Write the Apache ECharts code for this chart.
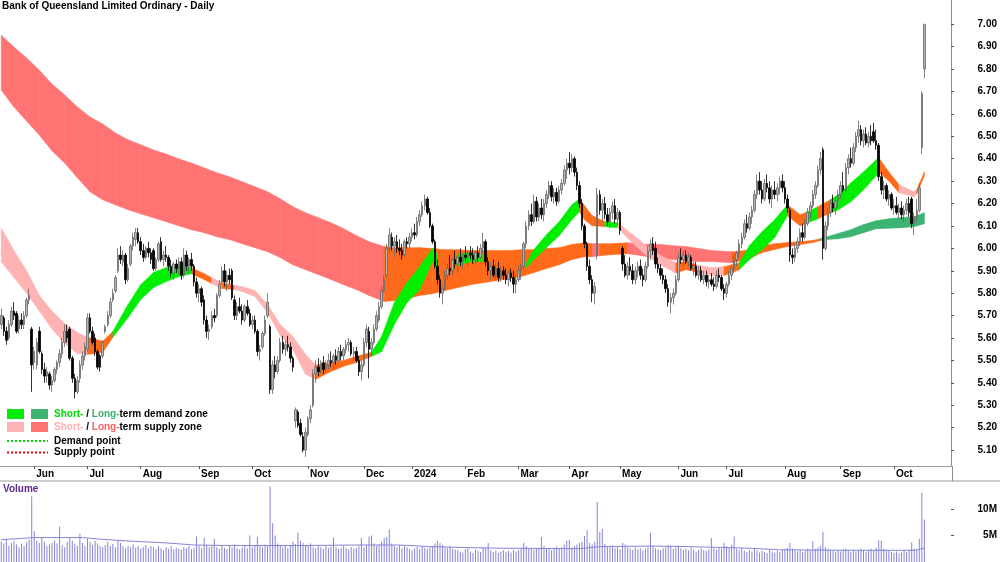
<!DOCTYPE html>
<html><head><meta charset="utf-8">
<script src="https://cdn.jsdelivr.net/npm/echarts@6/dist/echarts.min.js"></script>
<style>html,body{margin:0;padding:0;background:#fff}#c{width:1000px;height:562px}</style>
</head><body><div id="c"></div>
<script>
// ---------- DATA ----------
const chartTitle = 'Bank of Queensland Limited Ordinary - Daily';
const holidays = ['2023-06-12','2023-12-25','2023-12-26','2024-01-01','2024-01-26','2024-03-29','2024-04-01','2024-04-25','2024-06-10'];
const monthNames = ['Jan','Feb','Mar','Apr','May','Jun','Jul','Aug','Sep','Oct','Nov','Dec'];
const priceTicks = [5.10,5.20,5.30,5.40,5.50,5.60,5.70,5.80,5.90,6.00,6.10,6.20,6.30,6.40,6.50,6.60,6.70,6.80,6.90,7.00];
const volumeTicks = [5e6, 10e6];

// OHLC in cents, one entry per trading day (15 May 2023 .. 17 Oct 2024)
const openC = [
566,569,563,560,566,572,571,564,568,566,
570,577,564,549,548,563,553,546,543,544,
539,541,546,549,553,558,563,564,551,542,
536,542,548,552,555,569,563,560,554,552,
552,563,566,570,577,581,590,597,594,597,
586,593,601,604,607,603,599,596,600,598,
599,591,595,603,595,597,596,592,589,593,
591,594,588,597,592,595,592,585,580,582,
577,568,563,565,570,570,579,585,590,585,
588,590,577,570,574,572,568,574,571,566,
568,563,554,556,562,570,565,537,548,545,
550,558,555,557,556,551,523,527,522,516,
510,517,524,530,544,547,545,549,546,548,
550,549,552,550,554,552,555,557,558,553,
554,550,545,548,558,563,555,558,564,568,
574,581,588,600,605,601,603,600,599,597,
603,602,605,607,606,612,615,619,622,616,
610,603,592,586,580,582,588,591,590,595,
593,596,594,597,596,598,597,595,598,596,
600,603,594,590,592,588,591,587,590,588,
586,589,587,584,586,590,592,602,610,615,
612,621,614,618,615,620,624,628,623,625,
621,626,629,635,638,636,640,634,628,620,
610,602,592,586,580,597,624,617,620,615,
612,616,619,613,616,600,593,588,592,590,
586,590,592,588,586,592,599,602,600,593,
591,588,586,582,576,578,580,586,596,595,
597,594,596,591,592,588,590,586,588,585,
586,584,583,588,587,582,580,584,588,591,
595,598,602,605,611,609,614,617,624,630,
626,622,629,627,622,626,624,627,630,627,
622,617,597,596,600,603,607,605,611,616,
619,624,628,635,644,600,610,616,620,618,
621,624,628,626,636,640,638,645,650,653,
648,651,647,650,652,648,646,632,626,628,
622,624,618,619,616,618,615,617,620,622,
611,614,617,645,680];
const highC = [
573,570,565,568,574,576,572,570,571,572,
578,582,565,556,560,565,554,549,547,545,
543,547,550,555,560,566,566,565,552,544,
543,550,554,558,571,571,565,562,555,553,
559,566,572,578,582,588,600,601,599,598,
593,602,607,609,609,605,602,601,603,600,
600,596,603,605,599,601,597,595,594,595,
596,596,600,599,596,598,593,587,584,583,
579,570,566,572,573,580,586,592,593,590,
591,591,579,576,578,575,575,577,573,570,
570,564,557,563,570,580,566,550,552,552,
560,561,559,561,558,552,529,528,524,518,
520,525,530,546,550,551,550,552,550,553,
554,553,555,556,557,556,559,560,559,556,
556,552,550,560,566,565,560,566,572,576,
583,588,602,609,607,605,606,604,602,604,
605,607,609,611,614,617,621,624,623,618,
611,604,595,588,583,590,593,597,596,599,
597,600,598,601,599,601,600,599,601,602,
607,604,596,594,595,593,594,592,592,591,
590,591,590,588,592,593,603,612,617,620,
624,623,620,622,622,626,630,630,627,627,
628,631,637,640,643,642,641,636,630,622,
611,603,595,588,585,627,626,622,623,618,
618,621,622,618,617,601,597,594,596,593,
592,594,595,591,594,601,604,605,603,596,
593,591,588,584,580,582,588,598,600,599,
599,598,597,594,594,592,592,590,590,588,
589,587,590,591,588,584,585,590,592,597,
599,604,607,613,615,616,619,626,633,634,
630,631,633,630,628,630,629,632,633,630,
624,618,600,602,605,609,611,613,618,621,
626,630,637,643,645,612,618,622,624,623,
626,630,634,638,642,645,647,652,657,655,
653,654,652,655,656,653,647,634,630,629,
626,625,622,623,620,621,619,622,623,623,
616,622,629,670,700];
const lowC = [
564,561,557,559,565,568,562,562,564,564,
569,575,536,546,546,553,544,540,540,537,
536,540,544,547,551,556,558,550,540,533,
535,540,546,550,554,562,557,552,546,545,
551,562,565,569,576,580,589,593,592,584,
585,592,599,601,602,597,594,595,596,593,
590,590,594,594,592,594,590,587,586,589,
588,586,587,590,589,590,583,578,576,574,
566,560,559,564,567,569,578,584,583,581,
584,577,568,568,571,566,567,570,565,564,
562,552,550,555,561,569,535,535,542,544,
549,553,552,554,549,545,520,520,516,509,
507,516,522,529,540,543,544,544,545,546,
547,546,548,549,550,550,553,554,552,550,
549,543,541,547,556,542,552,557,563,567,
573,580,587,598,599,596,598,597,595,596,
600,600,603,604,605,610,614,617,615,609,
602,591,584,578,575,581,586,588,588,591,
589,592,591,594,592,595,593,593,594,595,
598,592,588,586,587,586,585,585,586,584,
583,585,580,580,585,586,591,600,608,610,
611,612,612,613,612,618,622,621,620,619,
620,624,628,631,633,634,632,626,618,608,
600,590,584,576,575,595,615,612,613,610,
609,613,611,610,606,590,587,586,588,584,
584,587,586,583,585,591,595,597,591,589,
586,584,580,574,571,575,579,585,593,592,
593,592,590,588,587,586,585,584,583,582,
583,581,582,585,581,577,578,583,586,589,
592,596,600,604,607,608,611,616,622,624,
620,621,625,620,618,622,621,624,625,620,
616,594,593,594,598,601,603,604,610,613,
618,622,627,633,595,599,608,614,616,615,
618,622,625,625,633,636,637,643,647,646,
645,646,645,646,647,644,630,624,622,621,
619,617,615,615,613,613,612,615,614,609,
606,612,616,642,676];
const closeC = [
570,563,559,566,572,570,563,568,566,570,
577,579,548,554,558,554,546,543,545,539,
541,546,549,553,558,563,560,551,542,536,
541,548,552,556,569,563,558,554,547,547,
558,565,570,576,580,587,597,595,597,586,
591,601,605,607,603,599,596,600,598,595,
591,595,602,595,597,596,592,589,593,591,
594,588,597,592,595,592,585,580,582,576,
568,563,564,570,569,579,584,590,585,588,
586,578,570,574,572,568,574,571,566,568,
563,554,555,562,568,576,537,548,545,550,
558,555,557,556,551,547,528,521,517,510,
518,524,528,544,547,545,549,546,548,550,
549,552,550,554,552,555,557,558,553,554,
550,545,548,558,564,555,558,564,570,574,
581,586,600,606,601,603,600,599,597,603,
602,605,607,606,612,615,619,622,616,610,
603,592,586,580,582,588,591,590,595,593,
596,594,597,596,598,597,595,598,596,600,
603,594,590,592,588,591,587,590,588,586,
589,587,584,586,590,592,602,610,615,612,
621,614,618,615,620,624,628,623,625,621,
626,629,635,638,636,640,634,628,620,610,
602,592,586,580,583,624,617,620,615,612,
616,619,613,616,608,593,588,592,590,586,
590,592,588,586,592,599,602,599,593,591,
588,586,582,576,578,580,586,596,595,597,
594,596,591,592,588,590,586,588,585,586,
584,583,588,587,582,580,584,588,591,595,
598,602,605,611,609,614,617,624,630,626,
622,629,627,622,626,624,627,630,627,622,
618,597,596,600,603,607,605,611,616,619,
624,628,635,640,600,610,616,620,618,621,
624,628,626,636,640,638,645,650,653,648,
651,647,650,648,648,646,632,626,628,622,
624,618,619,616,618,615,617,620,616,611,
614,617,627,669,700];
// volume in units of 100,000 shares
const volumeTenthM = [
38,35,42,30,36,40,33,28,35,30,
37,42,124,58,40,36,45,38,30,33,
36,40,35,67,32,28,38,45,40,35,
30,53,36,30,44,38,32,40,35,30,
28,32,38,30,34,28,40,36,30,26,
30,28,33,27,30,25,28,32,26,30,
28,24,30,26,22,28,25,30,24,27,
25,23,28,26,30,24,27,48,30,26,
45,32,28,30,44,28,25,30,27,24,
30,28,33,26,24,28,30,26,50,28,
32,47,30,28,33,30,142,73,50,35,
30,28,32,26,30,38,34,55,40,36,
32,30,35,28,26,30,28,25,30,27,
29,46,28,25,27,30,26,24,28,25,
27,30,45,28,32,48,50,35,30,33,
38,45,47,61,35,30,28,32,26,30,
28,25,22,26,28,24,30,27,25,28,
30,35,40,36,32,28,26,30,25,23,
22,20,18,24,26,20,17,23,21,19,
28,26,36,22,19,21,17,20,22,19,
21,18,23,20,22,27,36,30,25,27,
23,25,27,47,30,25,27,22,24,29,
26,28,33,40,42,28,31,33,36,38,
49,60,36,33,38,113,56,62,34,30,
28,31,26,28,24,36,33,28,26,23,
28,24,26,22,25,28,55,30,26,24,
22,26,28,32,30,25,28,31,26,23,
25,22,28,24,20,23,26,22,21,24,
45,26,23,28,25,36,30,28,33,48,
25,22,27,21,19,23,20,25,22,18,
21,19,17,23,20,18,21,19,23,25,
27,36,25,22,20,23,19,21,25,23,
39,25,27,30,57,28,25,23,21,19,
22,20,23,25,21,19,23,20,22,25,
21,19,23,25,22,27,41,40,25,23,
21,19,17,20,16,18,21,19,23,37,
25,23,44,130,80];
// volume moving average read at sample bars (millions)
const volMaIdx = [0,13,32,39,52,65,76,90,118,141,157,169,185,197,228,236,256,271,295,307,335,360,364];
const volMaVal = [4.2,4.6,4.6,4.3,3.9,3.6,3.2,3.1,3.1,3.2,3.2,2.9,2.7,2.6,2.5,2.9,3.0,2.9,2.6,2.3,2.2,2.2,2.6];

// Short-term zone: sample bar, upper edge, lower edge, state of following segment
const shortIdx = [0,5,10,15,20,25,30,34,40,44,50,55,60,65,70,75,80,83,87,92,95,100,105,110,115,120,124,130,135,140,146,150,155,160,165,170,172,175,180,185,190,195,200,207,210,215,220,225,228,230,233,238,243,250,255,260,266,270,274,280,285,291,295,300,305,310,315,318,322,327,330,335,340,345,346,350,354,360,361,364];
const shortTop = [6.09,5.99,5.90,5.79,5.72,5.665,5.625,5.603,5.585,5.629,5.749,5.838,5.892,5.914,5.923,5.914,5.887,5.869,5.847,5.834,5.829,5.812,5.749,5.66,5.607,5.527,5.478,5.491,5.50,5.518,5.536,5.607,5.758,5.847,5.918,5.999,5.972,5.958,5.972,5.981,5.972,5.95,5.932,5.932,5.994,6.061,6.119,6.194,6.221,6.19,6.146,6.119,6.114,6.052,6.007,5.967,5.936,5.941,5.927,5.914,5.918,5.935,6.012,6.074,6.128,6.194,6.15,6.163,6.186,6.217,6.239,6.292,6.341,6.395,6.404,6.341,6.284,6.252,6.261,6.341];
const shortBot = [5.94,5.87,5.80,5.72,5.64,5.576,5.531,5.527,5.536,5.603,5.692,5.772,5.825,5.852,5.874,5.887,5.861,5.843,5.821,5.816,5.807,5.785,5.714,5.611,5.549,5.438,5.416,5.451,5.474,5.491,5.518,5.54,5.66,5.758,5.816,5.941,5.896,5.905,5.923,5.941,5.941,5.914,5.896,5.914,5.95,6.003,6.057,6.128,6.163,6.128,6.101,6.097,6.092,6.012,5.963,5.927,5.89,5.905,5.896,5.879,5.879,5.905,5.95,5.994,6.048,6.146,6.101,6.114,6.132,6.159,6.172,6.208,6.261,6.324,6.341,6.301,6.248,6.23,6.243,6.324];
const shortState = ['S','S','S','S','S','S','S','N','N','D','D','D','D','D','D','N','N','S','N','S','S','S','S','S','S','S','N','N','N','N','D','D','D','D','D','D','N','N','D','D','N','N','N','D','D','D','D','D','N','N','N','D','S','S','S','S','N','N','S','S','N','D','D','D','D','N','N','D','N','D','D','D','D','D','N','N','S','S','N','N'];

// Long-term zone
const longIdx = [0,5,10,15,20,25,30,35,40,45,50,55,60,65,70,75,80,85,90,95,100,105,110,115,120,125,130,135,140,145,151,155,160,165,170,175,180,185,190,195,200,205,210,215,220,225,230,233,236,240,247,250,255,260,265,270,275,280,288,290,295,300,305,310,315,320,323,325,330,335,340,345,350,355,360,364];
const longTop = [6.951,6.898,6.849,6.795,6.733,6.684,6.631,6.586,6.555,6.515,6.484,6.462,6.439,6.421,6.399,6.381,6.359,6.337,6.319,6.297,6.275,6.252,6.221,6.186,6.159,6.137,6.114,6.088,6.057,6.03,6.008,6.003,6.003,6.003,5.999,5.994,5.994,5.99,5.99,5.99,5.99,5.994,5.994,5.999,6.003,6.017,6.025,6.021,6.021,6.021,6.025,6.021,6.017,6.017,6.012,6.008,5.999,5.99,5.985,5.985,5.994,6.012,6.021,6.026,6.03,6.035,6.043,6.05,6.066,6.083,6.106,6.123,6.132,6.137,6.141,6.159];
const longBot = [6.706,6.631,6.568,6.506,6.435,6.381,6.315,6.252,6.217,6.194,6.172,6.154,6.137,6.119,6.101,6.083,6.07,6.052,6.039,6.021,6.003,5.985,5.959,5.927,5.905,5.883,5.861,5.838,5.816,5.79,5.763,5.767,5.776,5.79,5.798,5.812,5.825,5.838,5.847,5.856,5.865,5.874,5.892,5.91,5.927,5.95,5.963,5.963,5.967,5.972,5.976,5.972,5.963,5.954,5.95,5.945,5.941,5.941,5.936,5.94,5.955,5.981,5.995,6.008,6.017,6.026,6.035,6.039,6.043,6.052,6.07,6.088,6.09,6.092,6.097,6.11];
const longState = ['S','S','S','S','S','S','S','S','S','S','S','S','S','S','S','S','S','S','S','S','S','S','S','S','S','S','S','S','S','S','N','N','N','N','N','N','N','N','N','N','N','N','N','N','N','N','N','S','N','N','S','S','S','S','S','S','S','S','N','N','N','N','N','N','N','N','D','D','D','D','D','D','D','D','D','D'];

// ---------- BUILD ----------
const dates = [];
for (let t = Date.UTC(2023,4,15); dates.length < 375; t += 86400000) {
  const d = new Date(t), wd = d.getUTCDay();
  if (wd === 0 || wd === 6) continue;
  const s = d.toISOString().slice(0,10);
  if (holidays.indexOf(s) >= 0) continue;
  dates.push(s);
}
const monthStart = new Set();
for (let k = 1; k < dates.length; k++) if (dates[k].slice(5,7) !== dates[k-1].slice(5,7)) monthStart.add(k);
const monthLabel = v => { const m = +v.slice(5,7); return m === 1 ? v.slice(0,4) : monthNames[m-1]; };

const candles = closeC.map((c,k) => [openC[k]/100, c/100, lowC[k]/100, highC[k]/100]);
const volumes = volumeTenthM.map(v => v * 1e5);
const volMa = volMaIdx.map((k,j) => [k, volMaVal[j] * 1e6]);

const FONT = 'Liberation Sans, Arial, sans-serif';
const ORANGE = '#ff6a1a';
const shortColors = {D:'#00ee00', S:'#ffb3b3', N:ORANGE};
const longColors = {D:'#3cb371', S:'#ff7373', N:ORANGE};

function bandSeries(name, idx, top, bot, state, colors, z) {
  const data = [];
  for (let k = 0; k < idx.length - 1; k++) data.push([idx[k], idx[k+1], top[k], bot[k], top[k+1], bot[k+1]]);
  return {
    type:'custom', name, xAxisIndex:0, yAxisIndex:0, clip:true, silent:true, z,
    encode:{x:[0,1], y:[2,3,4,5]},
    data,
    renderItem(params, api) {
      const i0 = api.value(0), i1 = api.value(1);
      const a = api.coord([i0, api.value(2)]), b = api.coord([i1, api.value(4)]);
      const c = api.coord([i1, api.value(5)]), d = api.coord([i0, api.value(3)]);
      const col = colors[state[params.dataIndex]];
      return {type:'polygon', shape:{points:[a,b,c,d]}, style:{fill:col, stroke:col, lineWidth:0.6}};
    }
  };
}

const txt = {fontSize:10, fontWeight:'bold', fontFamily:FONT};
const chart = echarts.init(document.getElementById('c'), null, {renderer:'canvas'});
chart.setOption({
  animation:false,
  backgroundColor:'#fff',
  title:{text:chartTitle, left:2, top:1, padding:0, textStyle:{fontSize:10, fontWeight:'bold', fontFamily:FONT, color:'#000'}},
  grid:[
    {left:0, right:48, top:0, height:466},
    {left:0, right:48, top:481, height:86.3}
  ],
  xAxis:[
    {type:'category', gridIndex:0, data:dates, boundaryGap:true,
     axisLine:{show:true, lineStyle:{color:'#9a9a9a', width:1}},
     axisTick:{show:true, alignWithLabel:true, length:3, interval:(i)=>monthStart.has(i), lineStyle:{color:'#555'}},
     axisLabel:{show:true, interval:(i)=>monthStart.has(i), formatter:monthLabel, align:'left', padding:[0,0,0,2], margin:3,
                color:'#000', ...txt},
     splitLine:{show:false}},
    {type:'category', gridIndex:1, data:dates, boundaryGap:true, show:false}
  ],
  yAxis:[
    {type:'value', gridIndex:0, position:'right', min:5.029, max:7.108,
     axisLine:{show:true, lineStyle:{color:'#8c8c8c'}},
     axisTick:{show:true, length:3, customValues:priceTicks, lineStyle:{color:'#555'}},
     axisLabel:{customValues:priceTicks, formatter:v=>v.toFixed(2), align:'right', margin:46, color:'#000', ...txt},
     splitLine:{show:false}},
    {type:'value', gridIndex:1, position:'right', min:0, max:15.25e6,
     axisLine:{show:false},
     axisTick:{show:true, length:3, customValues:volumeTicks, lineStyle:{color:'#555'}},
     axisLabel:{customValues:volumeTicks, formatter:v=>(v/1e6)+'M', align:'right', margin:46, color:'#000', ...txt},
     splitLine:{show:false}}
  ],
  series:[
    bandSeries('Long-term zone', longIdx, longTop, longBot, longState, longColors, 1),
    bandSeries('Short-term zone', shortIdx, shortTop, shortBot, shortState, shortColors, 2),
    {type:'candlestick', name:'Price', xAxisIndex:0, yAxisIndex:0, data:candles, z:3, barWidth:2,
     itemStyle:{color:'#b4b4b4', color0:'#000', borderColor:'#666', borderColor0:'#000', borderWidth:0.8}},
    {type:'bar', name:'Volume', xAxisIndex:1, yAxisIndex:1, data:volumes, barWidth:1, silent:true,
     itemStyle:{color:'#8585d8'}},
    {type:'line', name:'Volume MA', xAxisIndex:1, yAxisIndex:1, data:volMa, showSymbol:false, silent:true,
     lineStyle:{color:'#8585d8', width:1}}
  ],
  graphic:[
    {type:'line', shape:{x1:952.5, y1:466, x2:952.5, y2:481}, style:{stroke:'#8c8c8c', lineWidth:1}},
    {type:'line', shape:{x1:0, y1:481, x2:1000, y2:481}, style:{stroke:'#9a9a9a', lineWidth:1}},
    {type:'text', x:3, y:489, style:{text:'Volume', fill:'#5c2a8c', verticalAlign:'middle', ...txt}},
    {type:'rect', shape:{x:7, y:409, width:17, height:10}, style:{fill:'#00ee00'}},
    {type:'rect', shape:{x:31, y:409, width:17, height:10}, style:{fill:'#3cb371'}},
    {type:'rect', shape:{x:7, y:422, width:17, height:10}, style:{fill:'#ffb3b3'}},
    {type:'rect', shape:{x:31, y:422, width:17, height:10}, style:{fill:'#ff7373'}},
    {type:'line', shape:{x1:7, y1:441, x2:48, y2:441}, style:{stroke:'#00dd00', lineWidth:2, lineDash:[2,2]}},
    {type:'line', shape:{x1:7, y1:452.5, x2:48, y2:452.5}, style:{stroke:'#ff0000', lineWidth:2, lineDash:[2,2]}},
    {type:'text', x:54, y:414, style:{text:'{a|Short-} / {b|Long-}term demand zone', fill:'#000', verticalAlign:'middle', ...txt,
      rich:{a:{fill:'#00dd00', ...txt}, b:{fill:'#3cb371', ...txt}}}},
    {type:'text', x:54, y:427, style:{text:'{a|Short-} / {b|Long-}term supply zone', fill:'#000', verticalAlign:'middle', ...txt,
      rich:{a:{fill:'#ffb0b0', ...txt}, b:{fill:'#ff6060', ...txt}}}},
    {type:'text', x:54, y:441, style:{text:'Demand point', fill:'#000', verticalAlign:'middle', ...txt}},
    {type:'text', x:54, y:452.5, style:{text:'Supply point', fill:'#000', verticalAlign:'middle', ...txt}}
  ]
});
</script>
</body></html>
